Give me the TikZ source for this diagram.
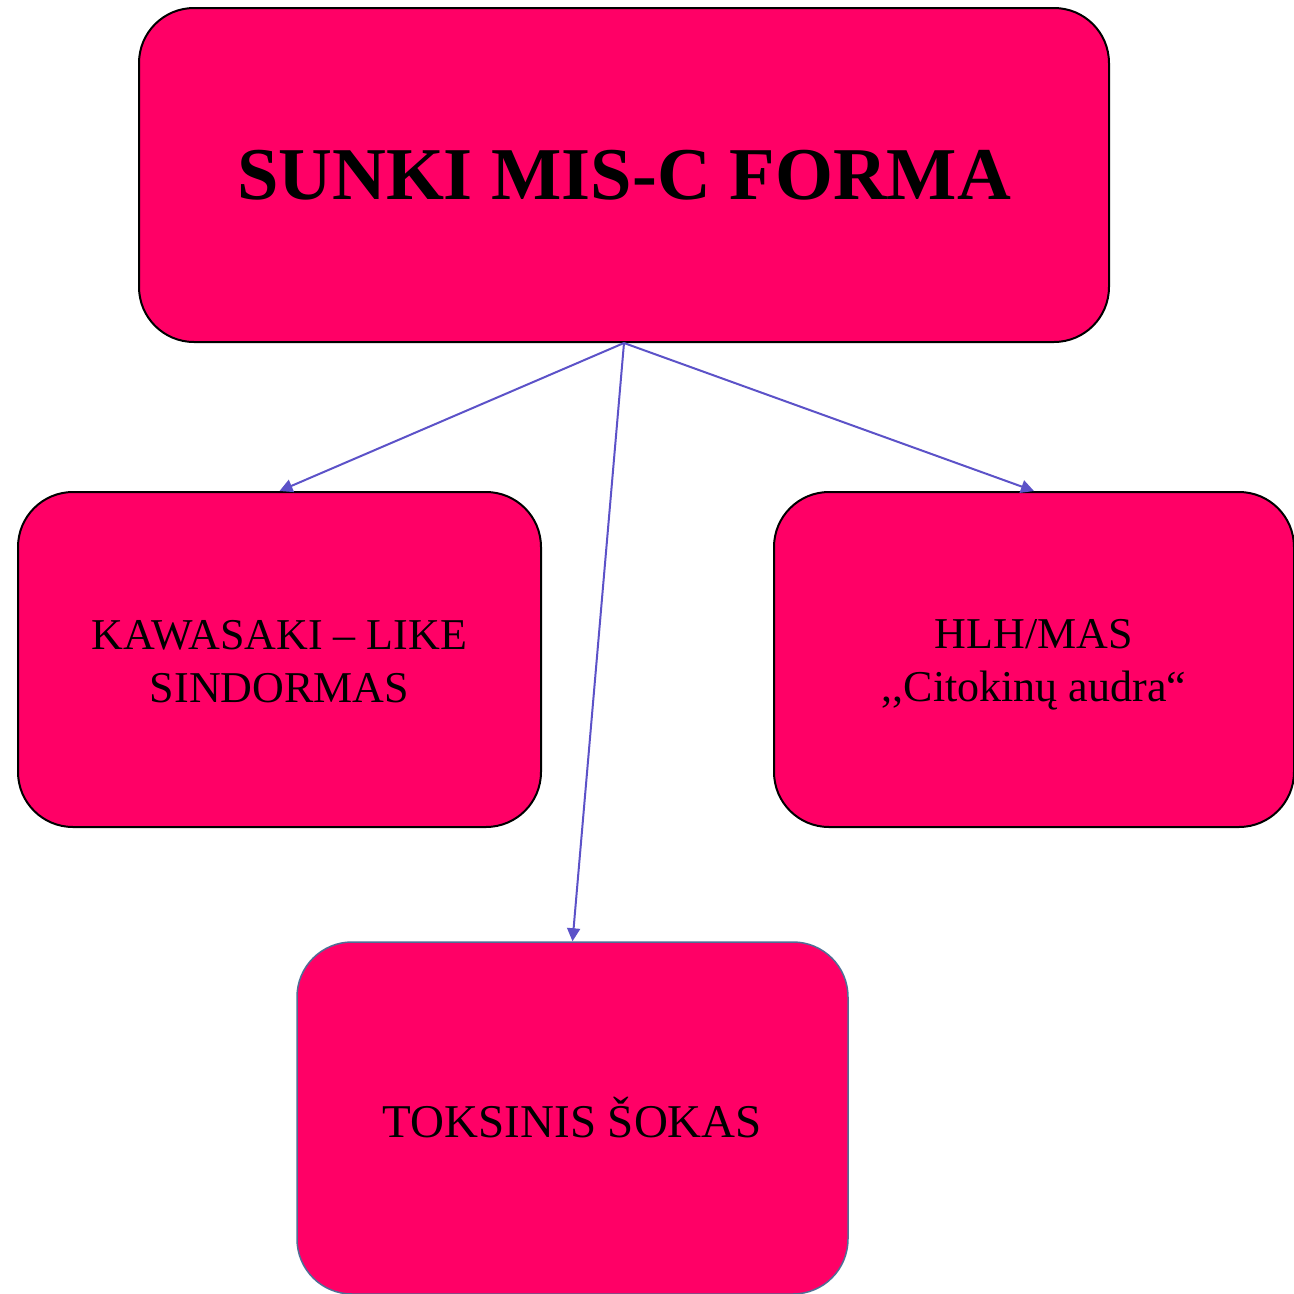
\documentclass[tikz,border=0pt]{standalone}
\usepackage{fontspec}
\setmainfont{Liberation Serif}
\usetikzlibrary{arrows.meta}
\definecolor{boxfill}{HTML}{FF0066}
\definecolor{arrowcol}{RGB}{92,82,200}
\definecolor{bluegray}{RGB}{80,110,150}
\tikzset{
  pinkbox/.style={draw=black, line width=2pt, fill=boxfill, rounded corners=55pt,
    align=center, inner sep=0pt, text=black},
  link/.style={draw=arrowcol, line width=2pt, -{Triangle[length=13pt,width=13pt]}}
}
\begin{document}
\begin{tikzpicture}[x=1pt,y=-1pt]
\useasboundingbox (0,0) rectangle (1294,1294);
\node[pinkbox, minimum width=970pt, minimum height=334pt,
  font=\fontsize{74.5}{89}\selectfont\bfseries] (top) at (624,175) {SUNKI MIS-C FORMA};
\node[pinkbox, minimum width=523pt, minimum height=335pt,
  label={[font=\fontsize{44}{53}\selectfont, align=center, yshift=-2pt]center:KAWASAKI – LIKE\\SINDORMAS}]
  (left) at (279.5,659.5) {};
\node[pinkbox, minimum width=520pt, minimum height=335pt,
  label={[font=\fontsize{44}{53}\selectfont, align=center, yshift=-5pt]center:HLH/MAS\\,{},Citokinų audra“}]
  (right) at (1034,659.5) {};
\node[pinkbox, draw=bluegray, line width=1.5pt, minimum width=551pt, minimum height=352pt,
  font=\fontsize{47}{56}\selectfont] (bottom) at (572.5,1118) {TOKSINIS ŠOKAS};
\draw[link] (top.south) -- (left.north);
\draw[link] (top.south) -- (right.north);
\draw[link] (top.south) -- (bottom.north);
\end{tikzpicture}
\end{document}
